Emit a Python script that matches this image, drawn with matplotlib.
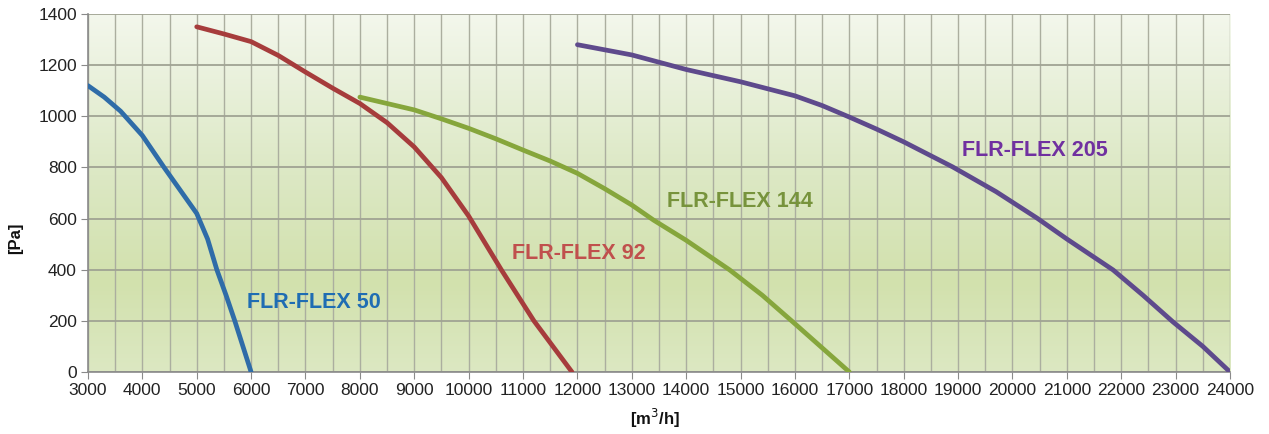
import numpy as np
import matplotlib
matplotlib.use("Agg")
import matplotlib.pyplot as plt
from matplotlib.colors import LinearSegmentedColormap

# airflow [m3/h] / pressure [Pa]
flex50_x = [3000, 3300, 3600, 4000, 4400, 4700, 5000, 5200, 5370, 5540, 5700, 5850, 6000]
flex50_y = [1120, 1075, 1020, 925, 800, 710, 620, 520, 400, 300, 200, 100, 0]

flex92_x = [5000, 5500, 6000, 6500, 7000, 7500, 8000, 8500, 9000, 9500, 10000, 10600, 11200, 11900]
flex92_y = [1350, 1322, 1292, 1238, 1173, 1110, 1050, 975, 880, 760, 610, 400, 200, 0]

flex144_x = [8000, 8500, 9000, 9500, 10000, 10500, 11000, 11500, 12000, 12500, 13000, 13400, 14000, 14800, 15400, 15960, 16650, 17000]
flex144_y = [1075, 1050, 1025, 990, 953, 912, 868, 825, 777, 717, 653, 594, 515, 399, 300, 196, 66, 0]

flex205_x = [12000, 13000, 14000, 15000, 16000, 16500, 17000, 17500, 18000, 18900, 19700, 20450, 21000, 21850, 22400, 22950, 23500, 24000]
flex205_y = [1280, 1240, 1183, 1135, 1080, 1042, 997, 950, 900, 802, 705, 602, 520, 399, 300, 196, 100, 0]

series = [
    ("FLR-FLEX 50", flex50_x, flex50_y, "#2f6ca8", "#1f6db3", (5920, 270)),
    ("FLR-FLEX 92", flex92_x, flex92_y, "#a63c3c", "#c0504d", (10800, 465)),
    ("FLR-FLEX 144", flex144_x, flex144_y, "#86a63c", "#77933c", (13650, 665)),
    ("FLR-FLEX 205", flex205_x, flex205_y, "#5e4a8c", "#7030a0", (19070, 868)),
]

fig = plt.figure(figsize=(12.69, 4.34), dpi=100)
ax = fig.add_axes([0.0693, 0.1429, 0.9000, 0.8248])

# soft green gradient behind the grid
bg = LinearSegmentedColormap.from_list(
    "bg", [(0.0, "#dce8c2"), (0.25, "#d2e1ad"), (0.55, "#dce8c4"), (1.0, "#f3f7ec")])
grad = np.linspace(0, 1, 256).reshape(-1, 1)
ax.imshow(grad, extent=[0, 1, 0, 1], transform=ax.transAxes, cmap=bg,
          origin="lower", aspect="auto", zorder=0)

ax.set_xlim(3000, 24000)
ax.set_ylim(0, 1400)
ax.set_xticks(np.arange(3000, 24001, 1000))
ax.set_xticks(np.arange(3500, 24000, 1000), minor=True)
ax.set_yticks(np.arange(0, 1401, 200))
ax.grid(True, which="both", axis="x", color="#abae9f", lw=1.0, zorder=1)
ax.grid(True, which="major", axis="y", color="#a0a393", lw=1.3, zorder=1)
ax.tick_params(which="minor", length=0)
ax.tick_params(which="major", direction="out", length=5, color="#8a8a8a",
               labelsize=12.5, labelcolor="#222222", pad=3)
for lbl in ax.get_xticklabels() + ax.get_yticklabels():
    lbl.set_family("Liberation Sans")

for s in ["top", "right"]:
    ax.spines[s].set_visible(False)
for s in ["left", "bottom"]:
    ax.spines[s].set_color("#8a8a8a")
    ax.spines[s].set_linewidth(1.2)

for name, xs, ys, lc, tc, pos in series:
    ax.plot(xs, ys, color=lc, lw=3.4, solid_capstyle="round",
            solid_joinstyle="round", zorder=3)
    ax.text(pos[0], pos[1], name, color=tc, fontsize=15.5, fontweight="bold",
            family="Liberation Sans", va="center", ha="left", zorder=4)

fig.text(0.012, 0.45, "[Pa]", rotation=90, fontsize=12, fontweight="bold",
         family="Liberation Sans", va="center", ha="center", color="#111111")
fig.text(0.516, 0.035, "[m$^3$/h]", fontsize=12, fontweight="bold",
         family="Liberation Sans", va="center", ha="center", color="#111111")

fig.savefig("out.png", dpi=100)
